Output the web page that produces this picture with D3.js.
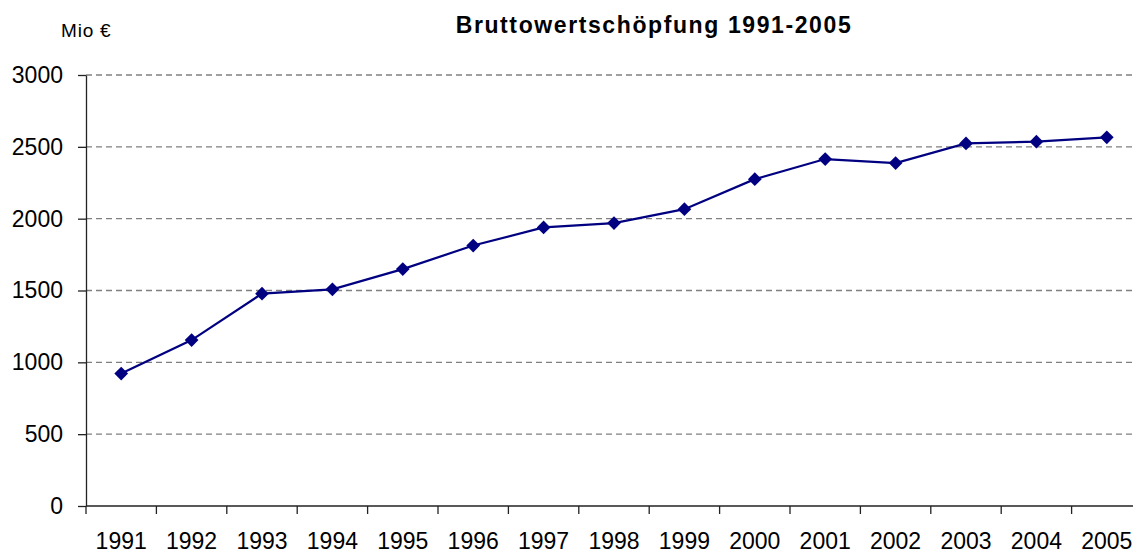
<!DOCTYPE html>
<html>
<head>
<meta charset="utf-8">
<script src="https://cdn.jsdelivr.net/npm/d3@7"></script>
<style>
  body { margin: 0; background: #fff; }
  svg { display: block; }
  text { font-family: "Liberation Sans", Arial, sans-serif; fill: #000; }
</style>
</head>
<body>
<div id="chart"></div>
<script>
// data
var years = ["1991", "1992", "1993", "1994", "1995", "1996", "1997", "1998",
             "1999", "2000", "2001", "2002", "2003", "2004", "2005"];
var values = [922, 1155, 1478, 1508, 1649, 1813, 1939, 1969,
              2066, 2275, 2415, 2387, 2524, 2536, 2566];
var yTicks = [0, 500, 1000, 1500, 2000, 2500, 3000];

var title = "Bruttowertschöpfung 1991-2005";
var unitLabel = "Mio €";

var W = 1133, H = 553;
// plot area, the right end runs past the window like in the original
var margin = { top: 75, left: 86 };
var plotW = 1056, plotH = 431;

var svg = d3.select("#chart")
    .append("svg")
    .attr("width", W)
    .attr("height", H);

var g = svg.append("g")
    .attr("transform", "translate(" + margin.left + "," + margin.top + ")");

var xScale = d3.scaleBand()
    .domain(years)
    .range([0, plotW]);

var yScale = d3.scaleLinear()
    .domain([0, 3000])
    .range([plotH, 0]);

// dashed grid lines
g.append("g")
    .selectAll("line")
    .data(yTicks.filter(function (d) { return d > 0; }))
    .join("line")
    .attr("x1", 0)
    .attr("x2", plotW)
    .attr("y1", function (d) { return yScale(d); })
    .attr("y2", function (d) { return yScale(d); })
    .attr("stroke", "#808080")
    .attr("stroke-width", 1.3)
    .attr("stroke-dasharray", "6,4");

// Y axis
var yAxis = g.append("g")
    .call(d3.axisLeft(yScale)
        .tickValues(yTicks)
        .tickFormat(d3.format("d"))
        .tickSize(8)
        .tickPadding(15)
        .tickSizeOuter(0));
yAxis.attr("font-family", null).attr("font-size", null);
yAxis.select(".domain").attr("stroke", "#222").attr("stroke-width", 1.3);
yAxis.selectAll(".tick line").attr("stroke", "#222").attr("stroke-width", 1.3);
yAxis.selectAll(".tick text")
    .attr("fill", "#000")
    .style("font-size", "23px");

// X axis, ticks between categories
var xAxis = g.append("g")
    .attr("transform", "translate(0," + plotH + ")");
xAxis.append("line")
    .attr("x1", 0).attr("x2", plotW)
    .attr("stroke", "#222").attr("stroke-width", 1.3);
xAxis.selectAll(".xtick")
    .data(years)
    .join("line")
    .attr("class", "xtick")
    .attr("x1", function (d) { return xScale(d); })
    .attr("x2", function (d) { return xScale(d); })
    .attr("y1", 0).attr("y2", 8)
    .attr("stroke", "#222").attr("stroke-width", 1.3);
xAxis.selectAll(".xlabel")
    .data(years)
    .join("text")
    .attr("class", "xlabel")
    .attr("x", function (d) { return xScale(d) + xScale.bandwidth() / 2; })
    .attr("y", 43)
    .attr("text-anchor", "middle")
    .style("font-size", "23px")
    .text(function (d) { return d; });

// line
var line = d3.line()
    .x(function (d, i) { return xScale(years[i]) + xScale.bandwidth() / 2; })
    .y(function (d) { return yScale(d); });

g.append("path")
    .datum(values)
    .attr("fill", "none")
    .attr("stroke", "#000080")
    .attr("stroke-width", 2.2)
    .attr("d", line);

// diamond markers
var diamond = d3.symbol().type(d3.symbolDiamond2).size(120);
g.selectAll(".marker")
    .data(values)
    .join("path")
    .attr("class", "marker")
    .attr("d", diamond)
    .attr("fill", "#000080")
    .attr("transform", function (d, i) {
        return "translate(" + (xScale(years[i]) + xScale.bandwidth() / 2) + "," + yScale(d) + ")";
    });

// title and unit
svg.append("text")
    .attr("x", 654)
    .attr("y", 33)
    .attr("text-anchor", "middle")
    .style("font-size", "23px")
    .style("font-weight", "bold")
    .style("letter-spacing", "1.6px")
    .text(title);

svg.append("text")
    .attr("x", 61)
    .attr("y", 37)
    .style("font-size", "19px")
    .style("letter-spacing", "0.8px")
    .text(unitLabel);
</script>
</body>
</html>
